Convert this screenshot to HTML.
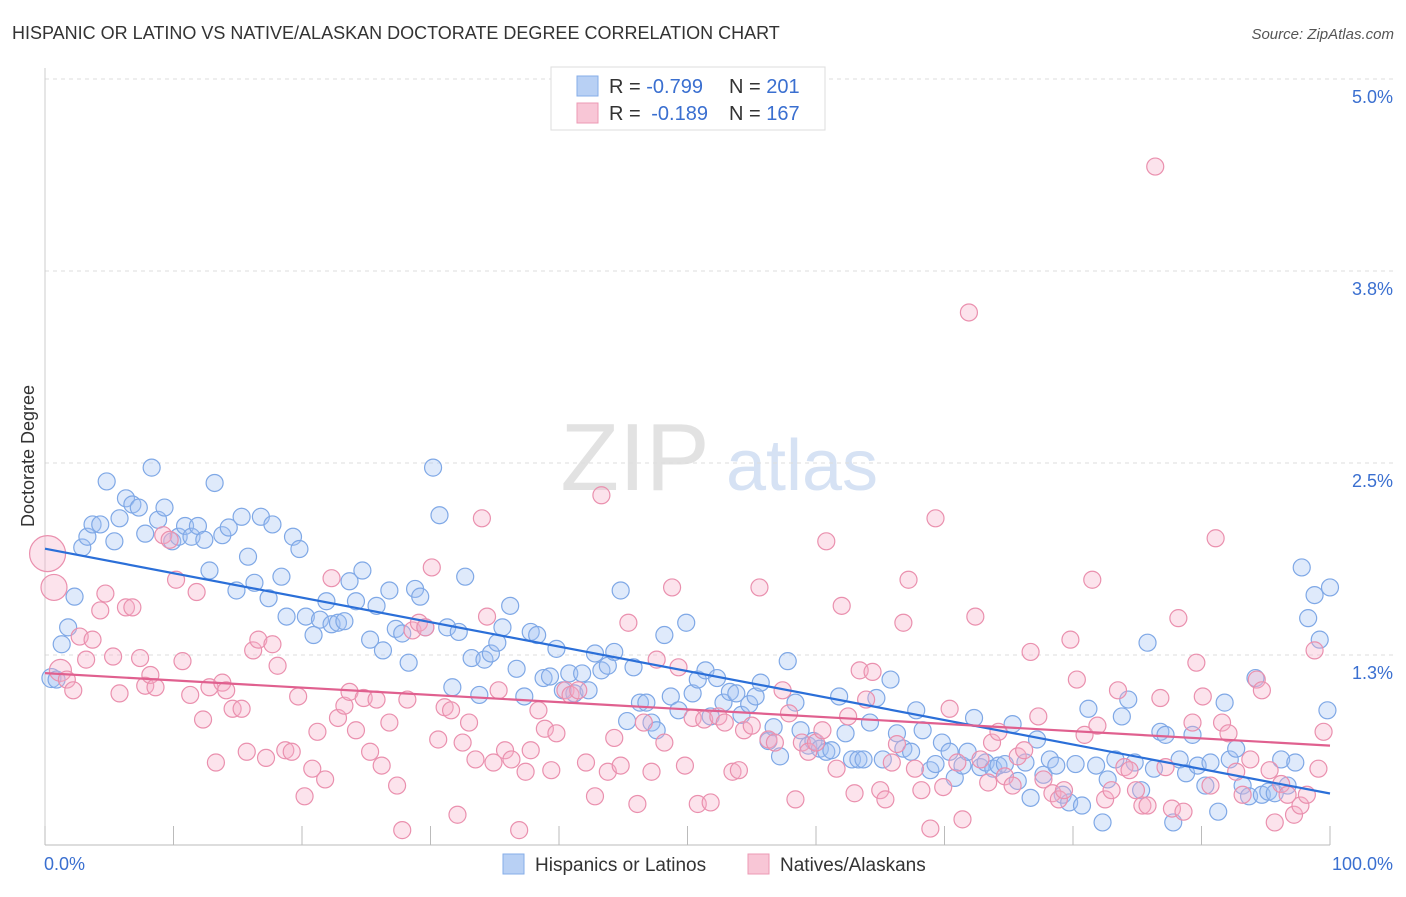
<!DOCTYPE html>
<html><head><meta charset="utf-8"><style>
body{margin:0;background:#fff;font-family:"Liberation Sans",sans-serif;}
svg text{font-family:"Liberation Sans",sans-serif;}
</style></head><body>
<svg id="chart" width="1406" height="892">
<text x="12" y="39" font-size="18" fill="#333">HISPANIC OR LATINO VS NATIVE/ALASKAN DOCTORATE DEGREE CORRELATION CHART</text>
<text x="1394" y="39" font-size="15" fill="#555" font-style="italic" text-anchor="end">Source: ZipAtlas.com</text>
<g>
<text x="635" y="490" font-size="96" fill="#e2e2e2" font-family="Liberation Serif" text-anchor="middle">ZIP</text>
<text x="802" y="490" font-size="72" fill="#d6e2f4" text-anchor="middle">atlas</text>
</g>
<g id="grid"></g>
<g id="axes"></g>
<g id="marks"></g>
<g id="trends"></g>
<text transform="translate(34,456) rotate(-90)" font-size="18" fill="#333" text-anchor="middle">Doctorate Degree</text>
<g>
<rect x="551" y="67" width="274" height="63" fill="#fff" stroke="#ddd"/>
<rect x="577" y="76" width="21" height="20" fill="#b8d0f4" stroke="#86aee8"/>
<rect x="577" y="103" width="21" height="20" fill="#f8c6d6" stroke="#ec9ab4"/>
<text x="609" y="93" font-size="20" fill="#333">R = <tspan fill="#3a6fd0">-0.799</tspan></text>
<text x="729" y="93" font-size="20" fill="#333">N = <tspan fill="#3a6fd0">201</tspan></text>
<text x="609" y="120" font-size="20" fill="#333">R = <tspan fill="#3a6fd0" dx="5">-0.189</tspan></text>
<text x="729" y="120" font-size="20" fill="#333">N = <tspan fill="#3a6fd0">167</tspan></text>
</g>
<g>
<rect x="503" y="854" width="21" height="20" fill="#b8d0f4" stroke="#86aee8"/>
<text x="535" y="871" font-size="19" fill="#333">Hispanics or Latinos</text>
<rect x="748" y="854" width="21" height="20" fill="#f8c6d6" stroke="#ec9ab4"/>
<text x="780" y="871" font-size="19" fill="#333">Natives/Alaskans</text>
</g>
</svg>
<script>
const yTicks=[5.0,3.75,2.5,1.25];
const yTickLabels=["5.0%","3.8%","2.5%","1.3%"];
const xTickLabels=["0.0%","100.0%"];
const blueX=[0.5,0.9,1.3,1.8,2.3,2.9,3.3,3.7,4.3,4.8,5.4,5.8,6.3,6.8,7.3,7.8,8.3,8.8,9.3,9.9,10.4,10.9,11.4,11.9,12.4,12.8,13.2,13.8,14.3,14.9,15.3,15.8,16.3,16.8,17.4,17.7,18.4,18.8,19.3,19.8,20.3,20.9,21.4,21.9,22.3,22.8,23.3,23.7,24.2,24.7,25.3,25.8,26.3,26.8,27.3,27.8,28.3,28.8,29.2,29.6,30.2,30.7,31.3,31.7,32.2,32.7,33.2,33.8,34.2,34.7,35.2,35.6,36.2,36.7,37.3,37.8,38.3,38.8,39.3,39.8,40.3,40.8,41.2,41.8,42.3,42.8,43.3,43.8,44.3,44.8,45.3,45.8,46.3,46.8,47.2,47.6,48.2,48.7,49.3,49.9,50.4,50.8,51.4,51.8,52.3,52.8,53.3,53.8,54.2,54.8,55.3,55.7,56.3,56.7,57.2,57.8,58.4,58.8,59.4,59.8,60.3,60.8,61.2,61.8,62.3,62.8,63.3,63.7,64.2,64.7,65.2,65.8,66.3,66.8,67.4,67.8,68.3,68.9,69.3,69.8,70.4,70.8,71.4,71.8,72.3,72.8,73.2,73.8,74.2,74.7,75.3,75.7,76.3,76.7,77.2,77.7,78.2,78.7,79.2,79.7,80.2,80.7,81.2,81.8,82.3,82.7,83.3,83.8,84.3,84.8,85.3,85.8,86.3,86.8,87.2,87.8,88.3,88.8,89.3,89.7,90.3,90.7,91.3,91.8,92.2,92.7,93.2,93.7,94.2,94.7,95.2,95.7,96.2,96.7,97.3,97.8,98.3,98.8,99.2,99.8,100];
const blueY=[1.10,1.09,1.32,1.43,1.63,1.95,2.02,2.10,2.10,2.38,1.99,2.14,2.27,2.23,2.21,2.04,2.47,2.13,2.21,1.99,2.02,2.09,2.02,2.09,2.00,1.80,2.37,2.03,2.08,1.67,2.15,1.89,1.72,2.15,1.62,2.10,1.76,1.50,2.02,1.94,1.50,1.38,1.48,1.60,1.45,1.46,1.47,1.73,1.60,1.80,1.35,1.57,1.28,1.67,1.42,1.39,1.20,1.68,1.63,1.43,2.47,2.16,1.43,1.04,1.40,1.76,1.23,0.99,1.22,1.26,1.33,1.43,1.57,1.16,0.98,1.40,1.38,1.10,1.11,1.29,1.02,1.13,1.00,1.13,1.02,1.26,1.15,1.18,1.27,1.67,0.82,1.17,0.94,0.94,0.81,0.76,1.38,0.98,0.89,1.46,1.00,1.09,1.15,0.85,1.10,0.94,1.01,1.00,0.86,0.93,0.98,1.07,0.69,0.78,0.59,1.21,0.94,0.76,0.66,0.69,0.64,0.62,0.63,0.98,0.74,0.57,0.57,0.57,0.81,0.97,0.57,1.09,0.74,0.64,0.62,0.89,0.76,0.50,0.54,0.68,0.62,0.45,0.53,0.62,0.84,0.52,0.55,0.51,0.53,0.54,0.80,0.43,0.55,0.32,0.70,0.47,0.57,0.53,0.34,0.29,0.54,0.27,0.90,0.53,0.16,0.44,0.57,0.85,0.96,0.55,0.37,1.33,0.51,0.75,0.73,0.16,0.57,0.48,0.73,0.53,0.40,0.55,0.23,0.94,0.57,0.64,0.40,0.33,1.10,0.34,0.36,0.35,0.57,0.40,0.55,1.82,1.49,1.64,1.35,0.89,1.69];
const pinkX=[0.2,0.7,1.2,1.7,2.2,2.7,3.2,3.7,4.3,4.7,5.3,5.8,6.3,6.8,7.4,7.8,8.2,8.6,9.2,9.7,10.2,10.7,11.3,11.8,12.3,12.8,13.3,13.8,14.1,14.6,15.3,15.7,16.2,16.6,17.2,17.7,18.1,18.7,19.2,19.7,20.2,20.8,21.2,21.8,22.3,22.8,23.3,23.7,24.2,24.8,25.3,25.8,26.2,26.8,27.4,27.8,28.2,28.6,29.1,29.6,30.1,30.6,31.1,31.6,32.1,32.5,33.0,33.5,34.0,34.4,34.9,35.3,35.8,36.3,36.9,37.4,37.8,38.4,38.9,39.4,39.8,40.5,40.9,41.5,42.1,42.8,43.3,43.8,44.3,44.8,45.4,46.1,46.6,47.2,47.6,48.2,48.8,49.3,49.8,50.4,50.8,51.3,51.8,52.4,52.9,53.5,54.0,54.4,55.0,55.6,56.3,56.8,57.4,57.9,58.4,58.9,59.4,60.0,60.5,60.8,61.6,62.0,62.5,63.0,63.4,63.9,64.4,65.0,65.4,65.9,66.3,66.8,67.2,67.7,68.2,68.9,69.3,69.9,70.4,71.0,71.4,71.9,72.4,72.8,73.4,73.7,74.2,74.7,75.3,75.7,76.2,76.7,77.3,77.7,78.4,78.9,79.3,79.8,80.3,80.9,81.5,81.9,82.5,83.0,83.5,84.0,84.4,84.9,85.4,85.8,86.4,86.8,87.2,87.7,88.2,88.6,89.3,89.6,90.1,90.7,91.1,91.6,92.1,92.7,93.2,93.8,94.3,94.7,95.3,95.7,96.2,96.7,97.2,97.7,98.2,98.8,99.1,99.5];
const pinkY=[1.91,1.69,1.15,1.09,1.02,1.37,1.22,1.35,1.54,1.65,1.24,1.00,1.56,1.56,1.23,1.05,1.12,1.04,2.03,2.00,1.74,1.21,0.99,1.66,0.83,1.04,0.55,1.07,1.02,0.90,0.90,0.62,1.28,1.35,0.58,1.32,1.18,0.63,0.62,0.98,0.33,0.51,0.75,0.44,1.75,0.84,0.92,1.01,0.76,0.97,0.62,0.96,0.53,0.81,0.40,0.11,0.96,1.41,1.46,1.43,1.82,0.70,0.91,0.89,0.21,0.68,0.81,0.57,2.14,1.50,0.55,1.02,0.63,0.57,0.11,0.49,0.63,0.89,0.77,0.50,0.74,1.02,0.99,1.02,0.55,0.33,2.29,0.49,0.71,0.53,1.46,0.28,0.81,0.49,1.22,0.68,1.69,1.17,0.53,0.84,0.28,0.83,0.29,0.85,0.81,0.49,0.50,0.76,0.79,1.69,0.70,0.68,1.02,0.87,0.31,0.68,0.62,0.68,0.76,1.99,0.51,1.57,0.85,0.35,1.15,0.96,1.14,0.37,0.31,0.55,0.67,1.46,1.74,0.51,0.37,0.12,2.14,0.39,0.90,0.55,0.18,3.48,1.50,0.57,0.42,0.68,0.75,0.46,0.40,0.59,0.63,1.27,0.85,0.44,0.35,0.31,0.37,1.35,1.09,0.73,1.74,0.79,0.31,0.37,1.02,0.52,0.50,0.37,0.27,0.27,4.43,0.97,0.52,0.25,1.49,0.23,0.81,1.20,0.98,0.40,2.01,0.81,0.74,0.49,0.34,0.57,1.09,1.02,0.50,0.16,0.41,0.34,0.21,0.27,0.34,1.28,0.51,0.75];
const NS="http://www.w3.org/2000/svg";
const X0=45,X1=1330,Y0=847,YPX=153.6;
function sx(v){return X0+(X1-X0)*v/100;}
function sy(v){return Y0-v*YPX;}
function mk(tag,attrs,parent){const e=document.createElementNS(NS,tag);for(const k in attrs)e.setAttribute(k,attrs[k]);parent.appendChild(e);return e;}
const grid=document.getElementById('grid'),axes=document.getElementById('axes'),marks=document.getElementById('marks'),trends=document.getElementById('trends');
yTicks.forEach((t,i)=>{
 const l=mk('line',{x1:X0,x2:1395,y1:sy(t),y2:sy(t),stroke:'#ddd','stroke-dasharray':'4,4'},grid);
 
 
 const tx=mk('text',{x:1393,y:sy(t)+24,'font-size':18,fill:'#3a6fd0','text-anchor':'end'},axes);
 tx.textContent=yTickLabels[i];
 
 
});
const ax=mk('line',{x1:X0,x2:X1,y1:845,y2:845,stroke:'#bbb'},axes);


const ay=mk('line',{x1:X0,x2:X0,y1:68,y2:845,stroke:'#ccc'},axes);


for(let i=0;i<=10;i++){
 const t=mk('line',{x1:sx(i*10),x2:sx(i*10),y1:826,y2:845,stroke:'#bbb'},axes);
 
 
}
const xl0=mk('text',{x:44,y:870,'font-size':18,fill:'#3a6fd0'},axes);xl0.textContent=xTickLabels[0];


const xl1=mk('text',{x:1393,y:870,'font-size':18,fill:'#3a6fd0','text-anchor':'end'},axes);xl1.textContent=xTickLabels[1];


function drawSeries(xs,ys,fill,stroke,name){
 xs.forEach((x,i)=>{
  let r=8.5;
  if(name==='native'&&i===0)r=18;else if(name==='native'&&i===1)r=13;else if(name==='native'&&i===2)r=11;else if(name==='hispanic'&&i===0)r=9.5;
  const c=mk('circle',{cx:sx(x),cy:sy(ys[i]),r:r,fill:fill,stroke:stroke,'stroke-width':1.2},marks);
  
  
 });
}
drawSeries(blueX,blueY,'rgba(164,196,244,0.35)','#7fa8e6','hispanic');
drawSeries(pinkX,pinkY,'rgba(246,176,200,0.35)','#ea90ae','native');
function fit(xs,ys){const n=xs.length;let mx=0,my=0;for(let i=0;i<n;i++){mx+=xs[i];my+=ys[i];}mx/=n;my/=n;let a=0,b=0;for(let i=0;i<n;i++){a+=(xs[i]-mx)*(ys[i]-my);b+=(xs[i]-mx)**2;}const s=a/b;return [my-s*mx,s];}
function trend(xs,ys,col,name){const [c,s]=fit(xs,ys);const l=mk('line',{x1:sx(0),y1:sy(c),x2:sx(100),y2:sy(c+100*s),stroke:col,'stroke-width':2.2},trends);
 
 }
trend(blueX,blueY,'#2b6fd8','hispanic-trend-line');
trend(pinkX,pinkY,'#e0608f','native-trend-line');
</script>
</body></html>
